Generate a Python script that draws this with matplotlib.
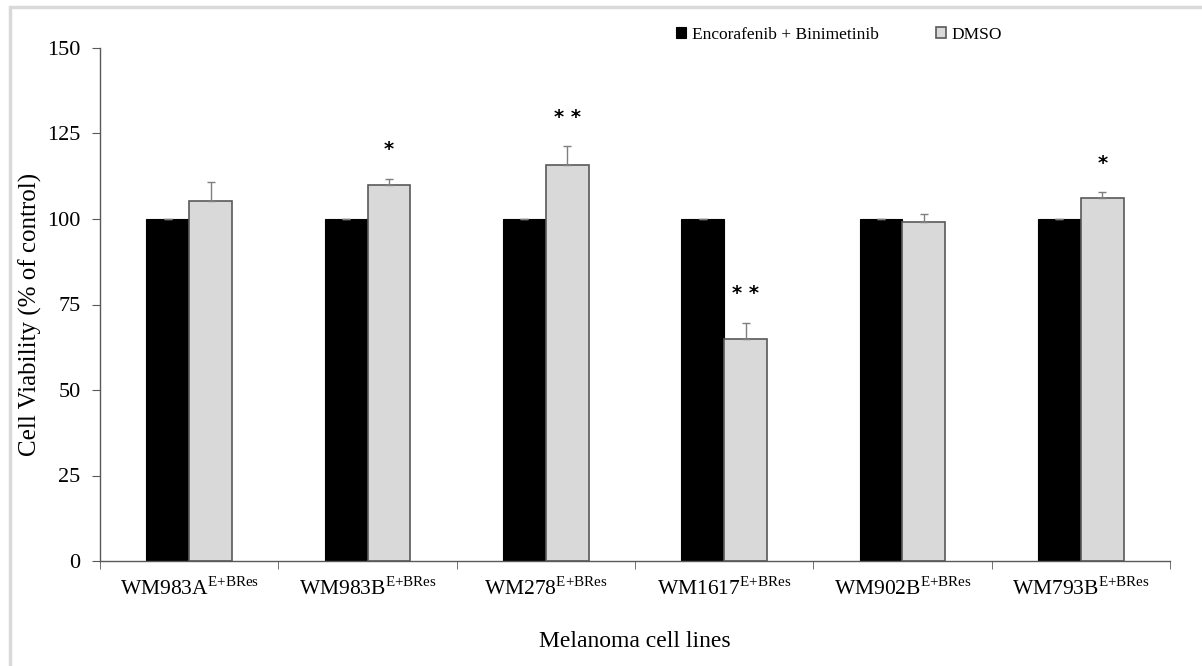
import numpy as np
import matplotlib
matplotlib.use("Agg")
import matplotlib.pyplot as plt
from matplotlib.patches import Rectangle

plt.rcParams['font.family'] = ['Liberation Serif', 'DejaVu Serif']
plt.rcParams['mathtext.fontset'] = 'custom'
plt.rcParams['mathtext.rm'] = 'Liberation Serif'

# dados
linhas = ["WM983A", "WM983B", "WM278", "WM1617", "WM902B", "WM793B"]
combo = [100, 100, 100, 100, 100, 100]
dmso = [105.3, 109.8, 115.8, 65.0, 99.0, 106.2]
dmso_err = [5.5, 1.9, 5.5, 4.7, 2.5, 1.6]
estrelas = ["", "*", "**", "**", "", "*"]

x = np.arange(len(linhas))
w = 0.24

fig = plt.figure(figsize=(12.02, 6.66), dpi=100)
ax = fig.add_axes([100/1202, 1-561/666, (1170-100)/1202, (561-48)/666])

# moldura cinza em volta da figura
fig.patches.append(Rectangle((10/1202, -0.05), 1.2, 1-7/666+0.05, transform=fig.transFigure,
                             fill=False, edgecolor="#d9d9d9", linewidth=2.5, zorder=0))

ax.bar(x - w/2, combo, w, color="black", edgecolor="black", linewidth=0.8,
       label="Encorafenib + Binimetinib",
       yerr=[[0]*6, [0]*6], error_kw=dict(ecolor="#7f7f7f", capsize=3, elinewidth=1))
ax.bar(x + w/2, dmso, w, color="#d9d9d9", edgecolor="#595959", linewidth=1.2,
       label="DMSO",
       yerr=[[0]*6, dmso_err], error_kw=dict(ecolor="#7f7f7f", capsize=3, elinewidth=1))

# asteriscos de significancia
for i in range(len(linhas)):
    if estrelas[i]:
        ax.text(x[i] + w/2, dmso[i] + dmso_err[i] + 8.5, " ".join(estrelas[i]) if len(estrelas[i]) > 1 else estrelas[i],
                ha="center", va="center", fontsize=14, fontweight="bold", family="DejaVu Sans")

ax.set_xlim(-0.5, len(linhas) - 0.5)
ax.set_ylim(0, 150)
ax.set_yticks([0, 25, 50, 75, 100, 125, 150])
ax.set_xticks(x)
ax.set_xticklabels([n + r"$^{\mathrm{E{+}BRes}}$" for n in linhas], fontsize=15.5)
ax.set_xticks(np.arange(-0.5, len(linhas)), minor=True)
ax.tick_params(axis="x", which="major", length=0, pad=12)
ax.tick_params(axis="x", which="minor", length=6, color="#595959", direction="out")
ax.tick_params(axis="y", length=6, color="#595959", labelsize=16, pad=8)

for s in ["top", "right"]:
    ax.spines[s].set_visible(False)
for s in ["left", "bottom"]:
    ax.spines[s].set_color("#595959")
    ax.spines[s].set_linewidth(1)

ax.set_ylabel("Cell Viability (% of control)", fontsize=18, va="center")
ax.yaxis.set_label_coords(-70/1070, 0.48)
ax.set_xlabel("Melanoma cell lines", fontsize=17, labelpad=22)

fig.legend(loc="center", bbox_to_anchor=(839/1202, 1-35/666), ncol=2, frameon=False,
           fontsize=12.5, handlelength=0.6, handleheight=0.6, handletextpad=0.3,
           columnspacing=3.3)

fig.savefig("out.png", dpi=100)
